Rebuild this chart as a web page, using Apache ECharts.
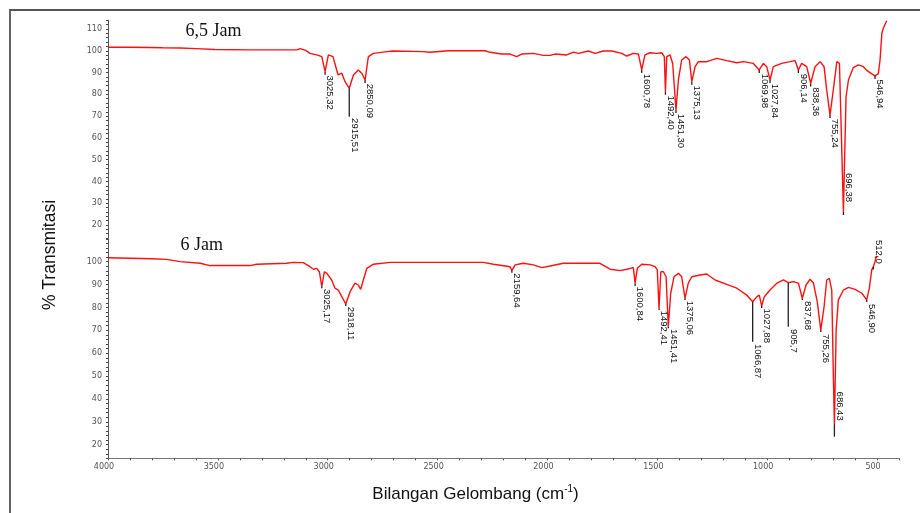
<!DOCTYPE html>
<html><head><meta charset="utf-8">
<script src="https://cdn.jsdelivr.net/npm/echarts@6/dist/echarts.min.js"></script>
<style>html,body{margin:0;padding:0;background:#fff}#c{width:920px;height:513px}</style>
</head><body><div id="c"></div>
<script>
// ---- data ----
const xTickLabels = [4000, 3500, 3000, 2500, 2000, 1500, 1000, 500];
const yTickLabels65 = [20, 30, 40, 50, 60, 70, 80, 90, 100, 110];
const yTickLabels6 = [20, 30, 40, 50, 60, 70, 80, 90, 100];
const panelTitles = ['6,5 Jam', '6 Jam'];

const spectrum65 = [[4000,101.6],[3900,101.6],[3809,101.5],[3750,101.4],[3672,101.3],[3600,101.0],[3513,100.6],[3354,100.4],[3200,100.4],[3140,100.4],[3126,101.0],[3100,100.2],[3081,98.8],[3050,98.1],[3027,97.3],[3012,90.4],[2997,98.1],[2976,97.3],[2953,88.9],[2936,89.7],[2921,85.8],[2902,82.8],[2883,88.9],[2861,91.2],[2845,89.7],[2830,86.6],[2815,97.3],[2792,98.8],[2731,99.6],[2703,99.9],[2566,99.6],[2534,99.3],[2451,100],[2284,100],[2261,99.3],[2208,98.5],[2170,98.5],[2140,97.3],[2117,98.5],[2064,98.8],[2019,97.9],[1988,97.9],[1965,98.5],[1912,98.1],[1882,99.4],[1859,98.8],[1814,99.9],[1783,98.8],[1746,99.9],[1707,99.9],[1662,98.8],[1639,97.6],[1609,98.8],[1586,98.5],[1571,91.2],[1556,98.1],[1533,99.1],[1502,98.8],[1480,99.1],[1468,97.3],[1463,81.2],[1457,97.3],[1442,98.1],[1430,94.2],[1415,72.8],[1404,86.6],[1389,95.8],[1369,97.3],[1354,95.8],[1343,85.8],[1328,92.7],[1313,95.0],[1275,95.0],[1229,96.5],[1184,95.5],[1138,94.5],[1108,95.0],[1063,94.2],[1036,91.2],[1017,94.2],[1002,92.7],[987,86.6],[972,92.7],[934,94.2],[896,95.0],[873,95.5],[858,91.2],[843,94.2],[820,92.7],[802,85.0],[782,92.7],[759,95.0],[741,92.7],[729,82.0],[714,70.5],[699,82.0],[683,95.0],[671,94.2],[660,52.9],[653,26.1],[641,78.9],[630,86.6],[608,92.3],[585,93.5],[562,92.7],[547,91.0],[525,89.5],[509,88.5],[494,89.5],[486,96],[478,108],[471,110.5],[466,110],[456,113.8]];

const spectrum6 = [[4000,101.7],[3900,101.5],[3800,101.3],[3733,101.0],[3672,100.0],[3581,99.3],[3536,98.3],[3354,98.3],[3323,98.9],[3187,99.3],[3157,99.7],[3111,99.6],[3081,97.8],[3065,96.7],[3050,97.1],[3038,95.6],[3027,89.1],[3015,95.6],[3004,94.9],[2982,92.0],[2967,88.4],[2952,87.6],[2936,84.7],[2918,81.5],[2898,86.9],[2876,90.6],[2861,89.8],[2850,87.9],[2838,92.0],[2822,97.1],[2792,98.9],[2716,99.7],[2292,99.7],[2246,98.9],[2170,97.8],[2162,96.1],[2147,98.6],[2110,99.3],[2064,98.6],[2026,97.4],[1988,98.1],[1928,99.3],[1852,99.3],[1761,99.3],[1715,96.7],[1669,96.1],[1639,96.7],[1609,97.4],[1601,90.6],[1591,97.1],[1571,98.9],[1533,98.6],[1510,97.8],[1500,96.4],[1492,79.6],[1484,95.6],[1472,95.6],[1460,93.4],[1450,71.6],[1439,86.2],[1424,93.4],[1404,94.9],[1389,93.4],[1374,84.0],[1359,90.6],[1343,93.4],[1305,94.2],[1275,94.6],[1237,92.0],[1184,90.1],[1138,88.4],[1093,85.4],[1066,82.5],[1047,84.7],[1036,85.4],[1025,80.6],[1013,84.7],[987,87.6],[956,90.6],[926,92.0],[904,90.8],[881,91.3],[858,90.6],[840,84.0],[823,89.8],[805,92.3],[790,90.8],[772,82.5],[756,70.1],[741,80.3],[729,92.0],[717,92.7],[706,87.6],[699,51.2],[694,29.0],[686,70.1],[676,83.3],[653,87.6],[630,88.8],[600,87.9],[569,86.2],[547,83.3],[535,88.4],[524,96.4],[517,97.8],[509,100],[504,102.2],[494,102.2]];

// peak tips [wavenumber, %T]
const peaks65 = [[3012,90.4],[2902,82.8],[2830,86.6],[1571,91.2],[1463,81.2],[1415,72.8],[1343,85.8],[1036,91.2],[987,86.6],[858,91.2],[802,85.0],[714,70.5],[653,26.1],[509,88.5]];
const peakLabels65 = ['3025,32','2915,51','2850,09','1600,78','1492,40','1451,30','1375,13','1069,98','1027,84','906,14','838,36','755,24','696,38','546,94'];
// leader [line end %T, label start %T]
const leader65 = [[89.0,88.7],[69.7,69.1],[85.2,84.9],[89.8,89.5],[79.8,79.5],[71.4,71.1],[84.4,84.1],[89.8,89.5],[85.2,84.9],[89.8,89.5],[83.6,83.3],[69.1,68.8],[24.6,43.9],[87.1,86.8]];

const peaks6 = [[3027,89.1],[2918,81.5],[2162,96.1],[1601,90.6],[1492,79.6],[1450,71.6],[1374,84.0],[1066,82.5],[1025,80.6],[904,90.8],[840,84.0],[756,70.1],[694,29.0],[547,83.3],[517,97.8]];
const peakLabels6 = ['3025,17','2918,11','2159,64','1600,84','1492,41','1451,41','1375,06','1066,87','1027,88','905,7','837,68','755,26','686,43','546,90','512,0'];
const leader6 = [[88.4,88.1],[80.6,80.3],[95.2,94.9],[89.4,89.1],[78.9,78.6],[70.9,70.6],[83.2,82.9],[65.0,64.0],[79.8,79.5],[71.6,70.6],[83.2,82.8],[69.3,68.4],[23.5,43.2],[82.4,81.5],[96.6,109.5]];

// ---- chart ----
const chart = echarts.init(document.getElementById('c'), null, {renderer: 'canvas'});
const tickFont = 'DejaVu Sans';

function xAxisCfg(gi, visible) {
  return {
    type: 'value', gridIndex: gi, min: 400, max: 4000, inverse: true, interval: 100,
    show: visible,
    axisLine: {show: true, onZero: false, lineStyle: {color: '#777', width: 1}},
    axisTick: {show: true, length: 2, lineStyle: {color: '#555', width: 1}},
    axisLabel: {
      show: true, margin: 5, fontSize: 8, color: '#555', fontFamily: tickFont, padding: [0, 8, 0, 0],
      formatter: v => xTickLabels.includes(Math.round(v)) && Math.abs(v - Math.round(v)) < 1e-6 ? String(Math.round(v)) : ''
    },
    splitLine: {show: false}
  };
}
function yAxisCfg(gi, max, labels) {
  return {
    type: 'value', gridIndex: gi, min: 14, max: max, interval: 2,
    axisLine: {show: true, lineStyle: {color: '#555', width: 1}},
    axisTick: {show: true, length: 2, lineStyle: {color: '#444', width: 1}},
    axisLabel: {
      margin: 6, fontSize: 8, color: '#555', fontFamily: tickFont,
      formatter: v => labels.includes(Math.round(v)) && Math.abs(v - Math.round(v)) < 1e-6 ? String(Math.round(v)) : ''
    },
    splitLine: {show: false}
  };
}
function peakSeries(ai, peaks, labels, leaders) {
  return {
    type: 'custom', xAxisIndex: ai, yAxisIndex: ai, silent: true, clip: false, z: 3,
    data: peaks.map((p, i) => [p[0], p[1], leaders[i][0], leaders[i][1], i]),
    renderItem: (params, api) => {
      const wn = api.value(0);
      const tip = api.coord([wn, api.value(1)]);
      const end = api.coord([wn, api.value(2)]);
      const txt = api.coord([wn, api.value(3)]);
      return {
        type: 'group',
        children: [
          {type: 'line', shape: {x1: tip[0], y1: tip[1], x2: end[0], y2: end[1]},
           style: {stroke: '#222', lineWidth: 1.3}},
          {type: 'text', x: txt[0] + 5, y: txt[1], rotation: -Math.PI / 2,
           style: {text: labels[api.value(4)], fontSize: 9.5, fontFamily: 'Liberation Sans',
                   fill: '#111', align: 'left', verticalAlign: 'middle'}}
        ]
      };
    }
  };
}

chart.setOption({
  animation: false,
  backgroundColor: '#fff',
  grid: [
    {left: 108, width: 791, top: 20.3, height: 217.8, containLabel: false},
    {left: 108, width: 791, top: 238.8, height: 219.6, containLabel: false}
  ],
  xAxis: [xAxisCfg(0, false), xAxisCfg(1, true)],
  yAxis: [yAxisCfg(0, 114, yTickLabels65), yAxisCfg(1, 110, yTickLabels6)],
  series: [
    {type: 'line', xAxisIndex: 0, yAxisIndex: 0, data: spectrum65, showSymbol: false, silent: true,
     lineStyle: {color: '#ff1010', width: 1.4}, z: 2},
    {type: 'line', xAxisIndex: 1, yAxisIndex: 1, data: spectrum6, showSymbol: false, silent: true,
     lineStyle: {color: '#ff1010', width: 1.4}, z: 2},
    peakSeries(0, peaks65, peakLabels65, leader65),
    peakSeries(1, peaks6, peakLabels6, leader6)
  ],
  graphic: [
    {type: 'rect', shape: {x: 10, y: 10, width: 940, height: 540}, silent: true, z: 0,
     style: {fill: 'none', stroke: '#555', lineWidth: 1.8}},
    {type: 'text', x: 185.5, y: 31.5, silent: true,
     style: {text: panelTitles[0], fontFamily: 'Liberation Serif', fontSize: 18, fill: '#111', align: 'left', verticalAlign: 'middle'}},
    {type: 'text', x: 180.5, y: 245.5, silent: true,
     style: {text: panelTitles[1], fontFamily: 'Liberation Serif', fontSize: 18, fill: '#111', align: 'left', verticalAlign: 'middle'}},
    {type: 'text', x: 50, y: 255, rotation: Math.PI / 2, silent: true,
     style: {text: '% Transmitasi', fontFamily: 'Liberation Sans', fontSize: 17.5, fill: '#111', align: 'center', verticalAlign: 'middle'}},
    {type: 'text', x: 475.5, y: 494, silent: true,
     style: {text: 'Bilangan Gelombang (cm{sup|-1})', fontFamily: 'Liberation Sans', fontSize: 17, fill: '#111',
             align: 'center', verticalAlign: 'middle',
             rich: {sup: {fontSize: 10, fontFamily: 'Liberation Sans', fill: '#111', padding: [0, 0, 10, 0]}}}}
  ]
});
</script></body></html>
